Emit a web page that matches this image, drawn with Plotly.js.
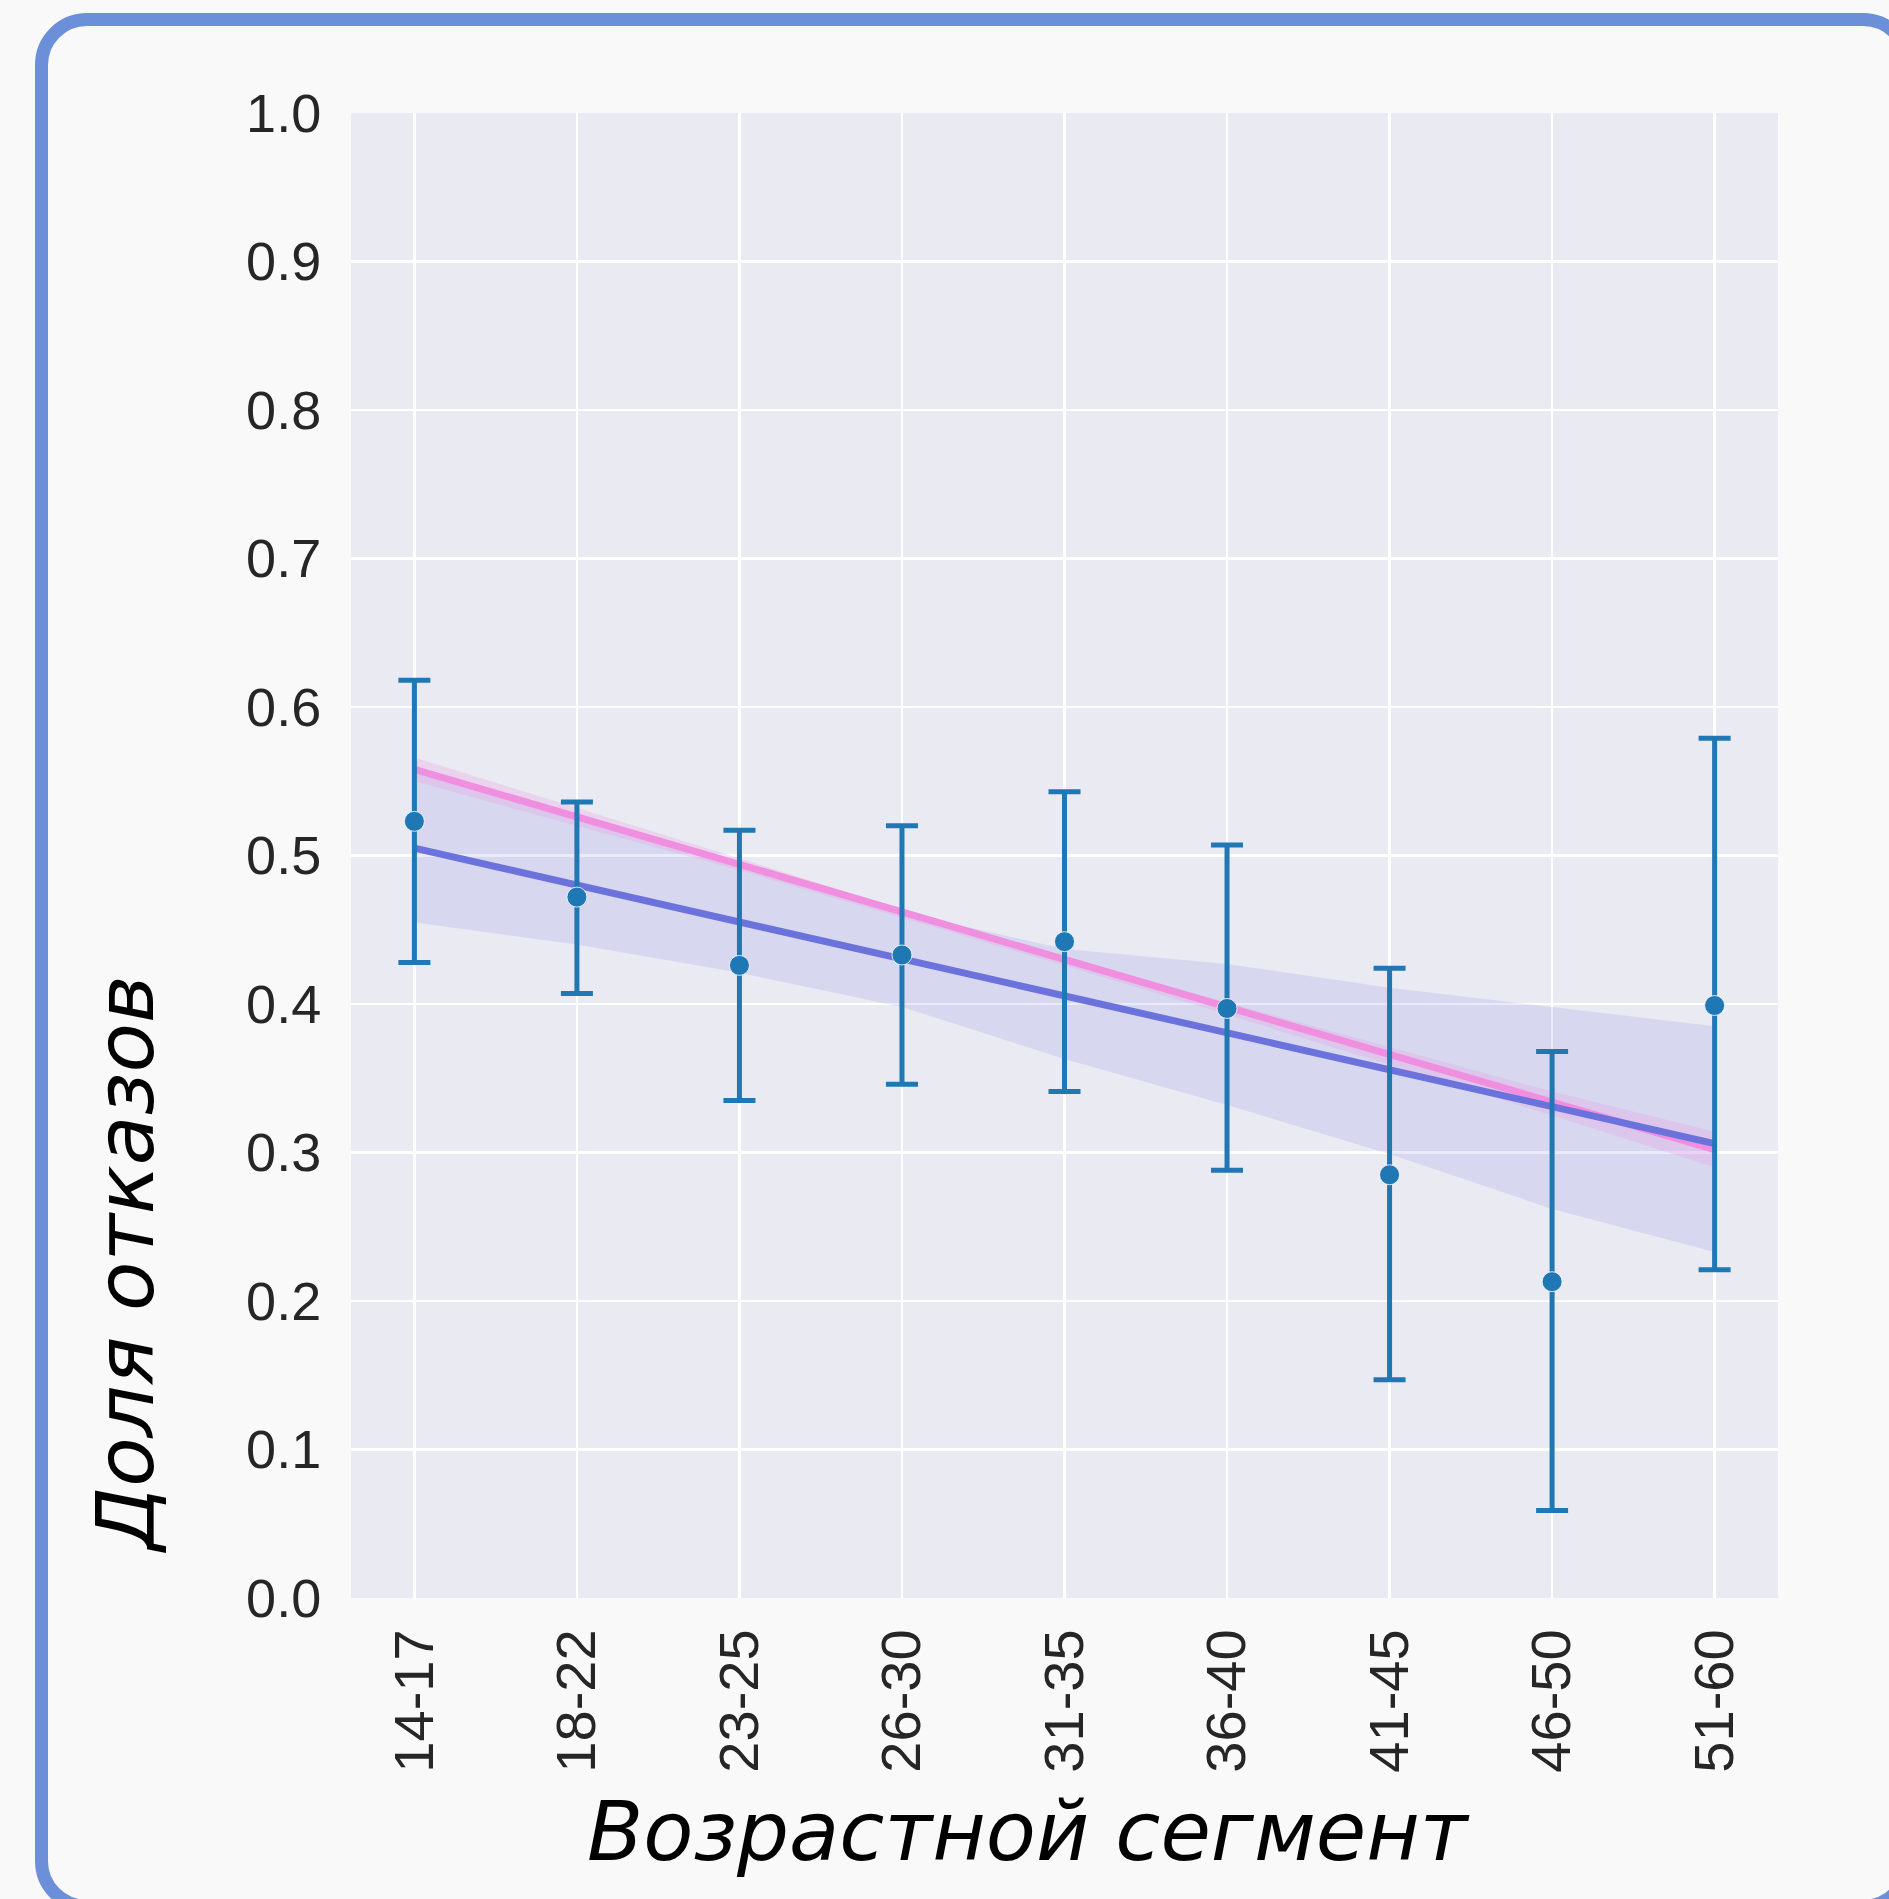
<!DOCTYPE html>
<html>
<head>
<meta charset="utf-8">
<script src="https://cdn.plot.ly/plotly-3.0.1.min.js"></script>
<style>
  html, body { margin: 0; padding: 0; background: #f9f9f9; }
  #frame { position: absolute; left: 35px; top: 13px; width: 1880px; height: 1900px;
           box-sizing: border-box; border: 13px solid #6b8fd9; border-radius: 52px; pointer-events: none; }
  #chart { position: absolute; left: 0; top: 0; width: 1889px; height: 1899px; }
</style>
</head>
<body>
<div id="chart"></div>
<div id="frame"></div>
<script>
// Age segments
const categories = ["14-17", "18-22", "23-25", "26-30", "31-35", "36-40", "41-45", "46-50", "51-60"];
// Observed refusal share with CI bounds
const pointValues = [0.523, 0.472, 0.426, 0.433, 0.442, 0.397, 0.285, 0.213, 0.399];
const ciUpper     = [0.618, 0.536, 0.517, 0.520, 0.543, 0.507, 0.424, 0.368, 0.579];
const ciLower     = [0.428, 0.407, 0.335, 0.346, 0.341, 0.288, 0.147, 0.059, 0.221];
// Blue regression fit and its confidence band
const blueFit     = [0.505, 0.480, 0.455, 0.430, 0.405, 0.380, 0.355, 0.330, 0.306];
const blueBandUp  = [0.560, 0.528, 0.495, 0.462, 0.437, 0.427, 0.411, 0.398, 0.385];
const blueBandLo  = [0.455, 0.440, 0.421, 0.398, 0.363, 0.332, 0.299, 0.262, 0.233];
// Pink regression fit and its confidence band
const pinkFit     = [0.558, 0.526, 0.494, 0.461, 0.429, 0.397, 0.365, 0.333, 0.302];
const pinkBandUp  = [0.566, 0.532, 0.498, 0.464, 0.432, 0.401, 0.371, 0.341, 0.314];
const pinkBandLo  = [0.550, 0.520, 0.490, 0.458, 0.426, 0.393, 0.359, 0.325, 0.290];
const yTicks = [0, 0.1, 0.2, 0.3, 0.4, 0.5, 0.6, 0.7, 0.8, 0.9, 1.0];
const xTitle = "Возрастной сегмент";
const yTitle = "Доля отказов";

const BLUE_LINE = "#6b72db";
const PINK_LINE = "#f08ee0";
const POINT = "#1f77b4";

const loopX = categories.concat(categories.slice().reverse());

const traces = [
  { x: loopX, y: blueBandUp.concat(blueBandLo.slice().reverse()), type: "scatter", mode: "lines",
    fill: "toself", fillcolor: "rgba(108,115,219,0.15)", line: { width: 0 }, hoverinfo: "skip", showlegend: false },
  { x: loopX, y: pinkBandUp.concat(pinkBandLo.slice().reverse()), type: "scatter", mode: "lines",
    fill: "toself", fillcolor: "rgba(239,143,223,0.25)", line: { width: 0 }, hoverinfo: "skip", showlegend: false },
  { x: categories, y: pinkFit, type: "scatter", mode: "lines", line: { color: PINK_LINE, width: 7 }, showlegend: false },
  { x: categories, y: blueFit, type: "scatter", mode: "lines", line: { color: BLUE_LINE, width: 7 }, showlegend: false },
  { x: categories, y: pointValues, type: "scatter", mode: "markers",
    marker: { color: POINT, size: 20, line: { color: "rgba(255,255,255,0.8)", width: 1 } },
    error_y: { type: "data", symmetric: false,
      array: ciUpper.map((u, i) => u - pointValues[i]),
      arrayminus: ciLower.map((l, i) => pointValues[i] - l),
      color: POINT, thickness: 5, width: 16 },
    showlegend: false }
];

const layout = {
  width: 1889, height: 1899,
  margin: { l: 351, r: 111, t: 113, b: 301 },
  paper_bgcolor: "rgba(0,0,0,0)",
  plot_bgcolor: "#eaeaf2",
  font: { family: "Liberation Sans, Arial, sans-serif", color: "#262626" },
  xaxis: {
    type: "category", categoryorder: "array", categoryarray: categories,
    range: [-0.39, 8.39], tickangle: -90,
    showgrid: true, gridcolor: "#ffffff", gridwidth: 2.5,
    zeroline: false, showline: false, ticks: "outside", ticklen: 8, tickcolor: "rgba(0,0,0,0)",
    tickfont: { size: 56, family: "Liberation Sans, Arial, sans-serif", color: "#262626" },
    automargin: false
  },
  yaxis: {
    range: [0, 1.0], tickvals: yTicks, tickformat: ".1f",
    showgrid: true, gridcolor: "#ffffff", gridwidth: 2.5,
    zeroline: false, showline: false, ticks: "outside", ticklen: 18, tickcolor: "rgba(0,0,0,0)",
    tickfont: { size: 54, family: "Liberation Sans, Arial, sans-serif", color: "#262626" },
    automargin: false
  },
  annotations: [
    { text: xTitle, xref: "paper", yref: "paper", x: (1027 - 351) / 1427, y: -(1831 - 1598) / 1485,
      xanchor: "center", yanchor: "middle", showarrow: false,
      font: { family: "DejaVu Sans, sans-serif", size: 82, color: "#000000" } },
    { text: yTitle, xref: "paper", yref: "paper", x: -(351 - 125) / 1427, y: (1598 - 1263) / 1485,
      xanchor: "center", yanchor: "middle", showarrow: false, textangle: -90,
      font: { family: "DejaVu Sans, sans-serif", size: 81, color: "#000000" } }
  ]
};

Plotly.newPlot("chart", traces, layout, { displayModeBar: false, staticPlot: true }).then(function () {
  document.querySelectorAll(".annotation-text").forEach(function (t) { t.style.fontStyle = "italic"; });
});
</script>
</body>
</html>
